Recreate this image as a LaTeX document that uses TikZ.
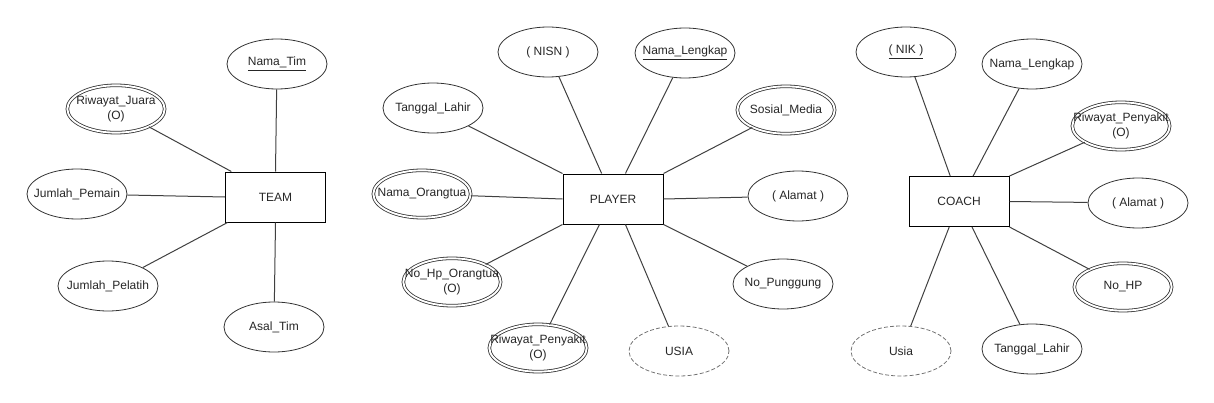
\documentclass[tikz,border=0pt]{standalone}
\usepackage{fontspec}
\setmainfont{Liberation Sans}
\usepackage{tikz}
\usetikzlibrary{shapes,positioning}
\tikzstyle{entity}=[rectangle, draw=black, line width=0.75pt, minimum width=75pt, minimum height=37.5pt, inner sep=1pt]
\tikzstyle{attr}=[ellipse, draw=black!80, line width=0.6pt, minimum width=75pt, minimum height=37.5pt, inner sep=0pt, align=center]
\tikzstyle{multi}=[attr, double, double distance=1.4pt, minimum width=73pt, minimum height=35.5pt]
\tikzstyle{derived}=[attr, draw=black!55, dash pattern=on 3pt off 1.6pt]
\tikzstyle{link}=[draw=black!75, line width=0.75pt]
\newcommand{\ctr}[1]{\makebox[0pt]{#1}}

\begin{document}
\begin{tikzpicture}[x=0.75pt, y=-0.75pt, font=\fontsize{9}{11}\selectfont, text=black!85]
        \useasboundingbox (0,0) rectangle (1214,403);
        %
        \node at (275.5,197) [entity] (team) {TEAM};
        \node at (277,64) [attr] (tnama) {\ctr{\underline{Nama\_Tim}}}
          edge [link] (team.north);
        \node at (116,109) [multi] (tjuara) {\ctr{Riwayat\_Juara}\\\ctr{(O)}}
          edge [link] (team.150);
        \node at (77,194) [attr] (tpemain) {\ctr{Jumlah\_Pemain}}
          edge [link] (team.west);
        \node at (108,286) [attr] (tpelatih) {\ctr{Jumlah\_Pelatih}}
          edge [link] (team.208);
        \node at (274,327) [attr] (tasal) {\ctr{Asal\_Tim}}
          edge [link] (team.south);
        %
        \node at (613,199) [entity] (player) {PLAYER};
        \node at (548,52) [attr] (pnisn) {\ctr{( NISN )}}
          edge [link] (player.114);
        \node at (685,53) [attr] (pnama) {\ctr{\underline{Nama\_Lengkap}}}
          edge [link] (player.64);
        \node at (433,108) [attr] (plahir) {\ctr{Tanggal\_Lahir}}
          edge [link] (player.north west);
        \node at (786,110) [multi] (psosmed) {\ctr{Sosial\_Media}}
          edge [link] (player.north east);
        \node at (422,194) [multi] (portu) {\ctr{Nama\_Orangtua}}
          edge [link] (player.west);
        \node at (798,196) [attr] (palamat) {\ctr{( Alamat )}}
          edge [link] (player.east);
        \node at (452,282) [multi] (phportu) {\ctr{No\_Hp\_Orangtua}\\\ctr{(O)}}
          edge [link] (player.south west);
        \node at (783,284) [attr] (ppunggung) {\ctr{No\_Punggung}}
          edge [link] (player.south east);
        \node at (538,348) [multi] (psakit) {\ctr{Riwayat\_Penyakit}\\\ctr{(O)}}
          edge [link] (player.242);
        \node at (679,351) [derived] (pusia) {\ctr{USIA}}
          edge [link] (player.296);
        %
        \node at (959,201.5) [entity] (coach) {COACH};
        \node at (906,52) [attr] (cnik) {\ctr{\underline{( NIK )}}}
          edge [link] (coach.109);
        \node at (1032,64) [attr] (cnama) {\ctr{Nama\_Lengkap}}
          edge [link] (coach.61);
        \node at (1121,126) [multi] (csakit) {\ctr{Riwayat\_Penyakit}\\\ctr{(O)}}
          edge [link] (coach.north east);
        \node at (1138,203) [attr] (calamat) {\ctr{( Alamat )}}
          edge [link] (coach.east);
        \node at (1123,287) [multi] (chp) {\ctr{No\_HP}}
          edge [link] (coach.south east);
        \node at (1032,349) [attr] (clahir) {\ctr{Tanggal\_Lahir}}
          edge [link] (coach.297);
        \node at (901,351) [derived] (cusia) {\ctr{Usia}}
          edge [link] (coach.249);
      %
      \end{tikzpicture}
\end{document}
